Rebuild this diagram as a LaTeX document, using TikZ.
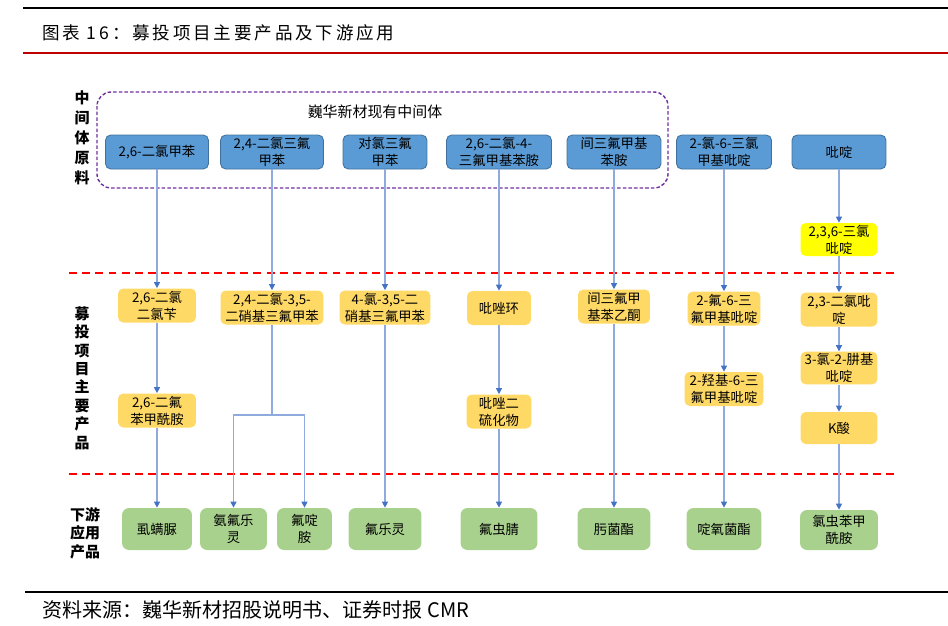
\documentclass[tikz,border=0pt]{standalone}
\usepackage{fontspec}
\setmainfont{Noto Sans CJK SC}
\usepackage{tikz}
\usetikzlibrary{arrows.meta, positioning, calc}
\definecolor{boxblue}{RGB}{91, 155, 213}
\definecolor{boxblueline}{RGB}{65, 113, 156}
\definecolor{boxorange}{RGB}{255, 217, 102}
\definecolor{boxgreen}{RGB}{169, 209, 142}
\definecolor{boxyellow}{RGB}{255, 255, 0}
\definecolor{linkgray}{RGB}{143, 170, 220}
\definecolor{linkblue}{RGB}{68, 114, 196}
\definecolor{framepurple}{RGB}{112, 48, 160}
\definecolor{titlered}{RGB}{192, 0, 0}
\tikzset{
    basebox/.style={rectangle, align=center, inner sep=1pt, font=\fontsize{7.6}{9.6}\selectfont, minimum height=0.68cm},
    rawbox/.style={basebox, rounded corners=3pt, draw=boxblueline, fill=boxblue, line width=0.5pt},
    prodbox/.style={basebox, rounded corners=3pt, fill=boxorange},
    keybox/.style={basebox, rounded corners=3pt, fill=boxyellow},
    usebox/.style={basebox, rounded corners=4pt, fill=boxgreen, minimum height=0.84cm},
    link/.style={draw=linkgray, line width=0.6pt},
    arrow/.style={link, -{Triangle[length=3.5pt, width=3.5pt, color=linkblue]}},
    divider/.style={draw=red, line width=1.4pt, dash pattern=on 4.5pt off 3pt},
    sidelabel/.style={align=center, font=\fontsize{8.5}{10.5}\selectfont\bfseries}
}

\begin{document}
\begin{tikzpicture}[x=0.02cm, y=-0.02cm]
    \useasboundingbox (0,0) rectangle (948,626);

    % Header and footer
    \draw[black, line width=0.8pt] (23,8) -- (948,8);
    \node[anchor=west, font=\fontsize{10}{12}\selectfont\addfontfeature{LetterSpace=16}] (title) at (36,33) {图表 16：募投项目主要产品及下游应用};
    \draw[titlered, line width=0.6pt] (23,53) -- (948,53);
    \draw[black, line width=0.8pt] (25,592) -- (948,592);
    \node[anchor=west, font=\fontsize{11.4}{13}\selectfont] (source) at (36,610) {资料来源：巍华新材招股说明书、证券时报 CMR};

    % Row labels
    \node[sidelabel, font=\fontsize{8.5}{11.3}\selectfont\bfseries] (lblraw) at (82,138) {中\\间\\体\\原\\料};
    \node[sidelabel] (lblprod) at (82,378) {募\\投\\项\\目\\主\\要\\产\\品};
    \node[sidelabel] (lbluse) at (85,533) {下游\\应用\\产品};

    % Existing intermediates frame
    \draw[framepurple, line width=0.8pt, dash pattern=on 2pt off 1.2pt, rounded corners=8pt] (97,92) rectangle (668,188);
    \node[font=\fontsize{8.5}{10}\selectfont] (framelbl) at (375,112) {巍华新材现有中间体};

    % Dividers
    \draw[divider] (69,273) -- (895,273);
    \draw[divider] (69,474) -- (895,474);

    % Raw materials
    \node[rawbox, minimum width=2.06cm] (raw1) at (157,152) {2,6-二氯甲苯};
    \node[rawbox, minimum width=2.06cm] (raw2) at (272,152) {2,4-二氯三氟\\甲苯};
    \node[rawbox, minimum width=1.68cm] (raw3) at (385,152) {对氯三氟\\甲苯};
    \node[rawbox, minimum width=2.10cm] (raw4) at (499,152) {2,6-二氯-4-\\三氟甲基苯胺};
    \node[rawbox, minimum width=1.88cm] (raw5) at (614,152) {间三氟甲基\\苯胺};
    \node[rawbox, minimum width=1.90cm] (raw6) at (724,152) {2-氯-6-三氯\\甲基吡啶};
    \node[rawbox, minimum width=1.88cm] (raw7) at (839,152) {吡啶};
    \node[keybox, minimum width=1.54cm, minimum height=0.66cm] (key7) at (839,239.5) {2,3,6-三氯\\吡啶};

    % Project products
    \node[prodbox, minimum width=1.56cm] (prod1) at (157,305.5) {2,6-二氯\\二氯苄};
    \node[prodbox, minimum width=2.06cm] (prod2) at (272,307.5) {2,4-二氯-3,5-\\二硝基三氟甲苯};
    \node[prodbox, minimum width=1.82cm] (prod3) at (385,307.5) {4-氯-3,5-二\\硝基三氟甲苯};
    \node[prodbox, minimum width=1.28cm] (prod4) at (499,308) {吡唑环};
    \node[prodbox, minimum width=1.44cm] (prod5) at (614,306.5) {间三氟甲\\基苯乙酮};
    \node[prodbox, minimum width=1.46cm] (prod6) at (724,308.5) {2-氟-6-三\\氟甲基吡啶};
    \node[prodbox, minimum width=1.54cm] (prod7) at (839,309.5) {2,3-二氯吡\\啶};
    \node[prodbox, minimum width=1.56cm] (sub1) at (157,410.5) {2,6-二氟\\苯甲酰胺};
    \node[prodbox, minimum width=1.30cm] (sub4) at (499,411.5) {吡唑二\\硫化物};
    \node[prodbox, minimum width=1.58cm] (sub6) at (724,389) {2-羟基-6-三\\氟甲基吡啶};
    \node[prodbox, minimum width=1.54cm, minimum height=0.64cm] (sub7) at (839,368) {3-氯-2-肼基\\吡啶};
    \node[prodbox, minimum width=1.54cm, minimum height=0.64cm] (acid7) at (839,428) {K酸};

    % Downstream products
    \node[usebox, minimum width=1.40cm] (use1) at (157,529) {虱螨脲};
    \node[usebox, minimum width=1.34cm] (use2) at (233.5,529) {氨氟乐\\灵};
    \node[usebox, minimum width=1.10cm] (use3) at (304.5,529) {氟啶\\胺};
    \node[usebox, minimum width=1.46cm] (use4) at (385,529) {氟乐灵};
    \node[usebox, minimum width=1.54cm] (use5) at (499,529) {氟虫腈};
    \node[usebox, minimum width=1.46cm] (use6) at (614,529) {肟菌酯};
    \node[usebox, minimum width=1.50cm] (use7) at (724,529) {啶氧菌酯};
    \node[usebox, minimum width=1.56cm, minimum height=0.80cm] (use8) at (839,530) {氯虫苯甲\\酰胺};

    % Connectors
    \draw[arrow] (raw1) -- (prod1);
    \draw[arrow] (prod1) -- (sub1);
    \draw[arrow] (sub1) -- (use1);
    \draw[arrow] (raw2) -- (prod2);
    \coordinate (split) at (272,415);
    \draw[link] (prod2) -- (split);
    \draw[arrow] (split) -| (use2);
    \draw[arrow] (split) -| (use3);
    \draw[arrow] (raw3) -- (prod3);
    \draw[arrow] (prod3) -- (use4);
    \draw[arrow] (raw4) -- (prod4);
    \draw[arrow] (prod4) -- (sub4);
    \draw[arrow] (sub4) -- (use5);
    \draw[arrow] (raw5) -- (prod5);
    \draw[arrow] (prod5) -- (use6);
    \draw[arrow] (raw6) -- (prod6);
    \draw[arrow] (prod6) -- (sub6);
    \draw[arrow] (sub6) -- (use7);
    \draw[arrow] (raw7) -- (key7);
    \draw[arrow] (key7) -- (prod7);
    \draw[arrow] (prod7) -- (sub7);
    \draw[arrow] (sub7) -- (acid7);
    \draw[arrow] (acid7) -- (use8);
\end{tikzpicture}
\end{document}
